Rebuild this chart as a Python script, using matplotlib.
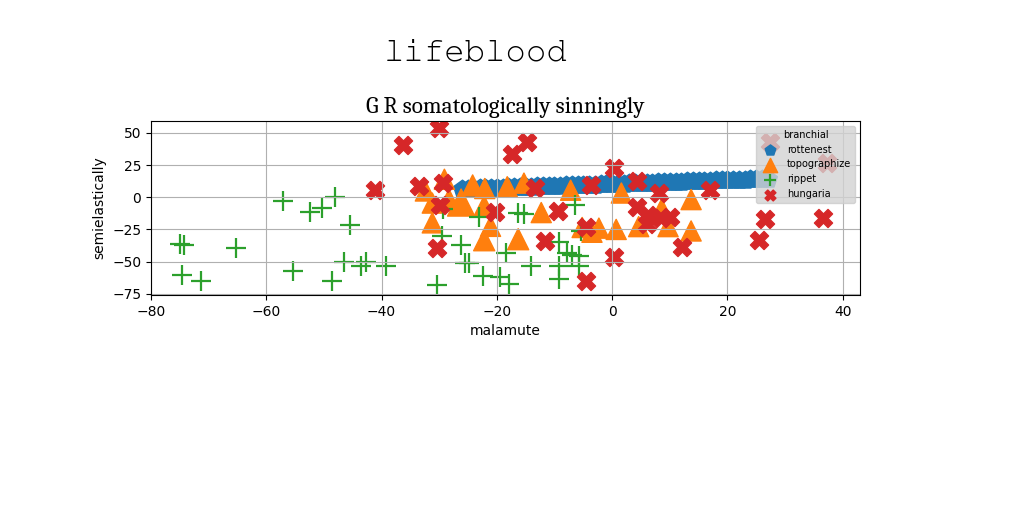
import matplotlib
matplotlib.use("Agg")
import matplotlib.pyplot as plt

# ---------------- data ----------------
rottenest_x = [-26, -25, -24, -23, -22, -21, -20, -19, -18, -17, -16, -15, -14, -13,
               -12, -11, -10, -9, -8, -7, -6, -5, -4, -3, -2, -1, 0, 1, 2, 3, 4, 5,
               6, 7, 8, 9, 10, 11, 12, 13, 14, 15, 16, 17, 18, 19, 20, 21, 22, 23,
               24, 25, 26, 27]
rottenest_y = [6.5, 6.6, 6.8, 6.9, 7.1, 7.2, 7.4, 7.5, 7.7, 7.8, 8.0, 8.1, 8.3, 8.4,
               8.6, 8.7, 8.9, 9.0, 9.2, 9.3, 9.5, 9.6, 9.8, 9.9, 10.1, 10.2, 10.4,
               10.5, 10.7, 10.8, 11.0, 11.1, 11.3, 11.4, 11.6, 11.7, 11.9, 12.0,
               12.2, 12.3, 12.5, 12.6, 12.8, 12.9, 13.1, 13.2, 13.4, 13.5, 13.7,
               13.8, 14.0, 14.1, 14.3, 14.4]

topographize_x = [-29.1, -32.4, -24.2, -22.1, -18.2, -15.3, -28.3, -31.2, -26.2, -22.2,
                  -31.2, -21.1, -22.2, -16.3, -12.3, -7.2, 1.6, -5.2, -2.3, -3.5,
                  0.7, 4.6, 8.6, 9.7, 13.7, 13.7]
topographize_y = [14.0, 4.9, 9.2, 6.8, 8.2, 11.0, -1.6, -4.5, -4.1, -6.7,
                  -19.9, -22.6, -33.4, -32.6, -11.9, 5.5, 3.3, -23.5, -24.0, -27.2,
                  -25.0, -22.8, -9.0, -22.8, -1.8, -26.2]
topographize_s = [210, 210, 230, 210, 210, 210, 210, 210, 380, 210,
                  210, 210, 230, 230, 210, 210, 210, 210, 210, 210,
                  210, 210, 210, 210, 210, 210]

rippet_x = [-57.1, -52.4, -50.3, -48.0, -45.4, -74.9, -74.2, -65.3, -74.6, -71.4,
            -55.4, -48.6, -46.6, -43.5, -42.7, -39.2, -30.4, -29.6, -29.4, -26.2,
            -25.6, -24.9, -22.4, -23.1, -18.5, -19.4, -17.9, -16.4, -15.3, -14.0,
            -9.3, -9.3, -9.2, -7.8, -6.9, -5.8, -5.8, -6.4, -5.4]
rippet_y = [-2.9, -11.4, -8.3, 0.2, -21.5, -36.5, -37.0, -39.6, -60.3, -65.0,
            -57.2, -65.0, -50.2, -53.3, -50.2, -53.3, -68.1, -30.5, -9.5, -37.0,
            -51.2, -51.2, -61.1, -15.3, -43.0, -62.3, -67.3, -12.4, -13.0, -53.3,
            -34.4, -53.3, -63.5, -43.7, -44.8, -45.6, -53.3, -6.0, -26.5]

hungaria_x = [-36.2, -30.0, -41.2, -33.5, -29.4, -29.9, -30.3, -17.4, -14.8, -13.4,
              -20.4, -9.4, -11.6, -4.6, -4.6, 0.3, 0.3, -3.7, 4.3, 8.1,
              4.3, 6.3, 8.5, 6.0, 10.0, 17.0, 12.2, 26.5, 25.4, 36.6,
              37.2, 27.4]
hungaria_y = [40.5, 54.2, 5.8, 9.0, 11.4, -6.0, -39.6, 33.4, 42.6, 7.0,
              -11.1, -10.4, -33.7, -65.3, -23.5, 22.4, -46.2, 9.6, 13.0, 3.6,
              -7.7, -14.0, -16.5, -20.5, -15.0, 5.6, -38.6, -17.1, -33.4, -15.8,
              26.9, 42.7]

series_labels = ["rottenest", "topographize", "rippet", "hungaria"]
legend_title = "branchial"
suptitle_text = "lifeblood"
title_text = "G R somatologically sinningly"
xlabel_text = "malamute"
ylabel_text = "semielastically"

# ---------------- figure ----------------
fig = plt.figure(figsize=(10.24, 5.12), dpi=100)
ax = fig.add_axes([151 / 1024, 1 - 295 / 512, (860 - 151) / 1024, (295 - 121) / 512])

ax.scatter(rottenest_x, rottenest_y, marker="p", s=180, color="#1f77b4",
           label=series_labels[0])
ax.scatter(topographize_x, topographize_y, marker="^", s=topographize_s,
           color="#ff7f0e", label=series_labels[1])
ax.scatter(rippet_x, rippet_y, marker="+", s=210, linewidths=1.6,
           color="#2ca02c", label=series_labels[2])
ax.scatter(hungaria_x, hungaria_y, marker="X", s=170, color="#d62728",
           label=series_labels[3])

ax.set_xlim(-80, 43)
ax.set_ylim(-76, 59.3)
ax.set_xticks([-80, -60, -40, -20, 0, 20, 40])
ax.set_yticks([-75, -50, -25, 0, 25, 50])
ax.grid(True)

ax.set_xlabel(xlabel_text)
ax.set_ylabel(ylabel_text)
ax.set_title(title_text, family=["Caladea", "Liberation Serif", "DejaVu Serif"],
             fontsize=16.7)

fig.text(476 / 1024, 1 - 53 / 512, suptitle_text, ha="center", va="center",
         family=["FreeMono", "Liberation Mono", "DejaVu Sans Mono"], fontsize=24.5)

leg = ax.legend(loc="upper right", title=legend_title, fontsize=7,
                title_fontsize=7, markerscale=0.6, facecolor="lightgray",
                framealpha=0.8)

fig.savefig("out.png", dpi=100)
